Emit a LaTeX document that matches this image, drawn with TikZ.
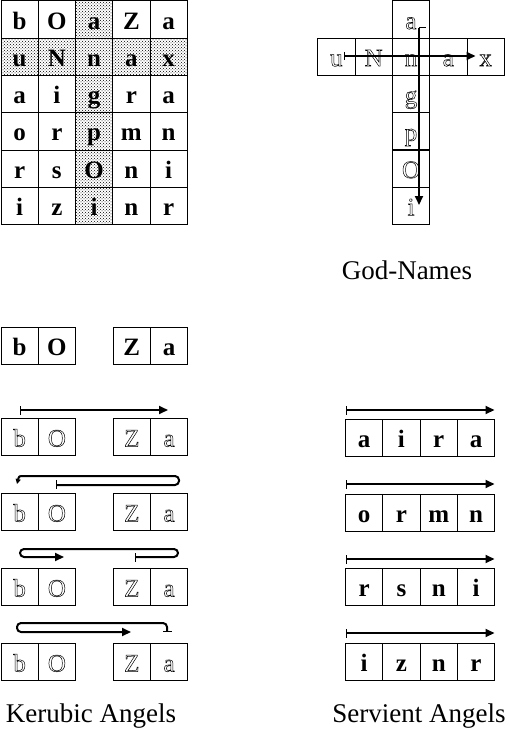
\documentclass[tikz,border=0pt]{standalone}
\usepackage{fontspec}
\setmainfont{Liberation Serif}
\usetikzlibrary{arrows.meta,patterns}
\newcommand\hollowon{\special{pdf:code 1 Tr 0.5 w}}
\newcommand\hollowoff{\special{pdf:code 0 Tr}}
\tikzset{
  cell/.style={draw,line width=0.9pt,minimum width=37.3pt,minimum height=37.2pt,inner sep=0pt,
    anchor=north west,text height=19pt,text depth=0pt,font=\fontsize{25}{30}\selectfont\bfseries},
  shcell/.style={cell,pattern=crosshatch dots,pattern color=black},
  hcell/.style={cell,font=\fontsize{25}{30}\selectfont\mdseries,
    execute at begin node=\hollowon,execute at end node=\hollowoff},
  lbl/.style={anchor=base,inner sep=0pt,font=\fontsize{27}{30}\selectfont},
  arr/.style={line width=2pt,-{Triangle[length=9pt,width=8pt]}},
  barr/.style={line width=2pt,{Bar[width=9pt,line width=1pt]}-{Triangle[length=9pt,width=8pt]}},
  loop/.style={barr,rounded corners=4pt}
}
\begin{document}
\begin{tikzpicture}[x=1pt,y=-1pt]
\useasboundingbox (0,0) rectangle (510,733);
% ---- top-left square
\foreach [count=\i] \row in {{b,O,a,Z,a},{u,N,n,a,x},{a,i,g,r,a},{o,r,p,m,n},{r,s,O,n,i},{i,z,i,n,r}}{
  \foreach [count=\j] \l in \row {
    \ifnum\i=2 \def\st{shcell}\else\ifnum\j=3 \def\st{shcell}\else\def\st{cell}\fi\fi
    \node[\st] (g\i\j) at ({0.5+(\j-1)*37.25},{0.5+(\i-1)*37.3}) {\l};
  }
}
% ---- cross (God-Names)
\node[hcell] (c1) at (391.9,0.5) {a};
\foreach [count=\j] \l in {u,N,n,a,x}{
  \node[hcell] (h\j) at ({317.3+(\j-1)*37.3},37.6) {\l};
}
\foreach [count=\i from 3] \l in {g,p,O,i}{
  \node[hcell] (v\i) at ({391.9},{37.6+(\i-2)*37.3}) {\l};
}
\coordinate (hs) at (344,56);
\coordinate (he) at (475.5,56);
\draw[line width=2pt,{Bar[width=8pt,line width=1pt]}-{Triangle[length=9pt,width=8pt]}] (hs) -- (he);
\coordinate (vs) at (419,28);
\coordinate (vt) at (426,28);
\coordinate (ve) at (419,205);
\draw[line width=1pt] (vs) -- (vt);
\draw[arr] (vs) -- (ve);
\node[lbl] (godnames) at (407,279) {God-Names};
% ---- Kerubic angels
\node[cell] (k0a) at (0.5,326.5) {b};
\node[cell] (k0b) at (37.8,326.5) {O};
\node[cell] (k0c) at (112.7,326.5) {Z};
\node[cell] (k0d) at (150,326.5) {a};
\foreach [count=\r] \y in {418,493,568,643}{
  \node[hcell] (k\r a) at (0.5,\y) {b};
  \node[hcell] (k\r b) at (37.8,\y) {O};
  \node[hcell] (k\r c) at (112.7,\y) {Z};
  \node[hcell] (k\r d) at (150,\y) {a};
}
% row 1 arrow
\coordinate (a1s) at (20,410);
\coordinate (a1e) at (168,410);
\draw[barr] (a1s) -- (a1e);
% row 2 arrow
\coordinate (a2s) at (56.5,485);
\coordinate (a2r) at (179,485);
\coordinate (a2u) at (179,476);
\coordinate (a2l) at (25,476);
\coordinate (a2e) at (17,484);
\draw[line width=1pt] (56.5,480) -- (56.5,489);
\draw[line width=2pt,rounded corners=4pt] (a2s) -- (a2r) -- (a2u) -- (a2l);
\draw[line width=2pt,-{Triangle[length=5pt,width=5pt]}] (a2l) .. controls (19,476) .. (a2e);
% row 3 arrow
\coordinate (a3s) at (134.5,557);
\coordinate (a3e) at (64,557);
\draw[loop] (a3s) -- (178,557) -- (178,549) -- (20,549) -- (20,557) -- (a3e);
% row 4 arrow
\coordinate (a4s) at (167,632);
\coordinate (a4e) at (131,632);
\draw[loop] (a4s) -- (167,623) -- (17,623) -- (17,632) -- (a4e);
\node[lbl] (kerubic) at (91,722) {Kerubic Angels};
% ---- Servient angels
\foreach [count=\r] \y/\ay/\w in {418.5/410/{a,i,r,a},493.5/484/{o,r,m,n},568/559/{r,s,n,i},642.5/633/{i,z,n,r}}{
  \foreach [count=\j] \l in \w {
    \node[cell] (s\r\j) at ({345+(\j-1)*37.3},\y) {\l};
  }
  \coordinate (sa\r) at (345.5,\ay);
  \coordinate (sb\r) at (494.5,\ay);
  \draw[barr] (sa\r) -- (sb\r);
}
\node[lbl] (servient) at (419,722) {Servient Angels};
\end{tikzpicture}
\end{document}
